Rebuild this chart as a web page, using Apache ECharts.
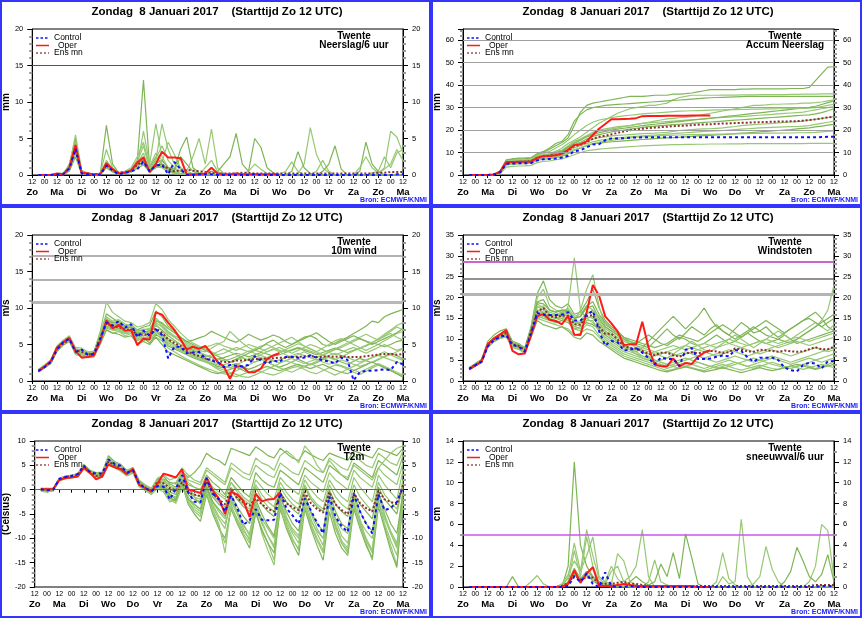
<!DOCTYPE html>
<html>
<head>
<meta charset="utf-8">
<title>ECMWF pluim Twente</title>
<script src="https://cdn.jsdelivr.net/npm/echarts@6/dist/echarts.min.js"></script>
<style>
  html, body { margin: 0; padding: 0; background: #fff; }
  #chart { width: 863px; height: 619px; }
</style>
</head>
<body>
<div id="chart"></div>
<script>
// time axis: every 6h from Zo 12 UTC (index 0) to Ma 12 UTC (index 60)
const dayNames = ['Zo', 'Ma', 'Di', 'Wo', 'Do', 'Vr', 'Za', 'Zo', 'Ma', 'Di', 'Wo', 'Do', 'Vr', 'Za', 'Zo', 'Ma'];
const hourLabels = ['12', '00'];
const titleText = 'Zondag  8 Januari 2017    (Starttijd Zo 12 UTC)';
const station = 'Twente';
const legendNames = ['Control', 'Oper', 'Ens mn'];

// values start at +6h; oper runs to +240h

// ---- Neerslag/6 uur (mm) ----
const rainControl = [
  0,0,0,0.1,0.1,0.9,3.6,0.2,0.1,0,
  0,1.3,0.6,0.1,0.3,0.5,0.8,1.8,0.5,1.3,
  1.4,0.1,1.8,0.8,0,0,0.1,0.1,0.1,0,
  0,0,0,0,0,0.1,0,0,0,0,
  0,0,0,0,0,0,0,0,0,0,
  0,0,0,0,0,0,0,0,0.1,0.1];
const rainOper = [
  0,0,0,0.2,0.1,1.0,4.1,0.3,0.2,0.1,
  0.1,1.6,0.8,0.2,0.3,0.6,1.7,2.4,0.4,1.5,
  3.2,2.4,2.4,2.3,0.1,0.1,0.1,0.2,1.0,0.2,
  0.1,0.1,0.2,0.1,0.1,0.1,0.1,0.1,0.1,0.1];
const rainMean = [
  0,0,0,0.1,0.1,0.9,3.3,0.3,0.2,0.1,
  0.2,1.3,0.7,0.3,0.4,0.6,1.4,1.9,0.6,1.3,
  1.4,0.9,0.5,0.6,0.7,0.6,0.5,0.4,0.3,0.2,
  0.2,0.2,0.2,0.3,0.3,0.2,0.2,0.2,0.2,0.2,
  0.2,0.2,0.2,0.2,0.2,0.2,0.2,0.2,0.2,0.2,
  0.2,0.2,0.2,0.2,0.2,0.3,0.3,0.4,0.4,0.4];
const rainMembers = [
  [0,0,0,0.2,0.1,1.5,5.0,0.5,0.2,0.1, 0.1,6.8,1.5,0.3,0.5,0.8,2.0,13.0,1.0,2.5, 1.5,0.5,0.3,0.2,0.1,0,0,0,0.5,0.2, 0,0,0,0,0,0,0,0,0,0, 0,0,0,0,0,0,0,0,0,0, 0,0,0,0,0,0,0,0,0,0],
  [0,0,0,0.1,0.2,0.8,3.5,0.2,0.1,0, 0,1.8,0.6,0.2,0.4,0.5,1.2,6.0,1.5,7.0, 2.5,1.0,0.8,0.5,0.2,0.1,0,0,0,0, 0,0,0,0,0,0,0,0,0,0, 0,0,0.2,1.5,6.5,2.8,1.0,0.3,0,0, 0,0,0,0,0,0.2,1.0,6.0,5.2,3.0],
  [0,0,0,0.2,0.1,1.0,4.5,0.4,0.2,0.1, 0.2,3.5,1.0,0.4,0.3,0.8,1.6,3.0,0.5,2.0, 7.0,3.5,1.5,0.8,0.5,2.5,5.0,1.5,6.3,1.0, 0.2,0,0,0,0,0,0,0,0,0, 0,0,0,0,0,0,0,0,0,0, 0,0,0,0,0,0,0,0,0,0],
  [0,0,0,0.1,0,0.5,2.5,0.1,0,0, 0,1.0,0.4,0.1,0.2,0.4,0.9,1.4,0.4,1.0, 1.2,0.6,0.4,0.2,0.1,0,0,0,0,0.5, 1.5,2.5,5.7,1.5,0.5,5.0,3.8,1.0,0.3,0, 0,0,0,0,0,0,0,0,0,0, 0,0,0.5,4.5,1.5,0.5,0,0,0,0],
  [0,0,0,0.2,0.3,1.2,5.5,0.6,0.3,0.1, 0.1,2.0,0.8,0.3,0.5,1.0,2.5,4.5,1.2,3.0, 2.0,1.0,0.5,0.2,0.1,0,0,0,0,0, 0,0,0,0,0,0,0,0,0,0, 0,0,0,0,0,0.5,2.0,0.5,0,0, 0,0,0,0,0.3,0.5,2.5,1.0,3.0,3.5],
  [0,0,0,0,0,0.6,3.0,0.2,0.1,0, 0,1.2,0.5,0.1,0.2,0.4,1.0,2.0,0.3,1.2, 1.8,4.5,2.8,1.0,0.5,0.2,0.1,0,0,0, 0,0,0,0,0.5,1.5,0.8,0.2,0,0, 0.5,1.8,0.5,0,0,0,0,0,0,0, 0,0,0,0,0,0,0,0,0,0],
  [0,0,0,0.1,0.1,0.9,4.0,0.3,0.1,0, 0.1,1.5,0.7,0.2,0.3,0.6,1.5,2.5,0.6,1.6, 2.0,1.0,0.8,3.5,5.2,1.0,0.3,0.1,0,0, 0,0,0,0,0,0,0,0,0,0, 0,0.5,3.2,1.0,0.2,0,0,0,0,0, 0,0,0,0,0,0,0,0,0,0],
  [0,0,0,0.1,0.1,0.8,3.2,0.2,0.1,0, 0,1.1,0.5,0.2,0.3,0.5,1.2,1.8,0.4,1.1, 1.0,0.4,0.2,0.1,0,0,0,0,0,0, 0,0,0,0,0,0,0,0,0,0, 0,0,0,0,0,0,0,0,0,0, 0,0,0,0,0,0,0,0,0,0],
  [0,0,0,0.2,0.1,1.1,4.5,0.3,0.1,0, 0.1,1.7,0.8,0.2,0.3,0.7,1.8,4.0,0.7,2.2, 4.0,2.0,1.0,0.5,0.2,0.1,0,1.0,2.0,0.5, 0,0,0,0,0,0,0,0,0,0, 0,0,0,0,0,0,0,0,0,0, 0,0,1.0,2.5,1.0,0.3,0.8,1.5,3.5,2.0],
  [0,0,0,0.1,0.2,1.0,3.8,0.3,0.1,0, 0,1.4,0.6,0.2,0.3,0.6,1.4,2.2,0.5,1.4, 1.5,0.8,0.6,2.5,1.5,0.5,0.2,0,0,0, 0,0,0,0,0,0,0,0,0,0, 0,0,0,0,0,0,0.5,1.5,4.0,0.8, 0,0,0,0,0,0,0,0,0,0]
];
const rainLevels = [15];

// ---- Accum Neerslag (mm) ----
const accControl = [
  0,0,0,0,0.2,1.2,5.0,5.1,5.2,5.2,
  5.3,6.5,7.0,7.1,7.3,7.8,8.6,10.6,11.0,12.3,
  13.6,13.7,15.5,16.3,16.3,16.4,16.6,16.7,16.8,16.8,
  16.8,16.8,16.8,16.8,16.8,16.8,16.8,16.8,16.8,16.8,
  16.8,16.8,16.8,16.8,16.8,16.8,16.8,16.8,16.8,16.8,
  16.8,16.8,16.8,16.8,16.8,16.8,16.8,16.9,17.0,17.0];
const accOper = [
  0,0,0,0,0.2,1.5,5.8,5.8,5.9,5.9,
  6.0,7.6,8.4,8.5,8.8,9.5,11.2,13.3,13.7,15.0,
  17.8,20.6,22.7,24.8,24.8,24.9,25.0,25.3,26.2,26.3,
  26.3,26.3,26.4,26.4,26.4,26.4,26.5,26.5,26.5,26.5];
const accMean = [
  0,0,0,0,0.2,1.3,5.3,5.6,5.8,5.9,
  6.1,7.6,8.3,8.6,8.9,9.5,10.9,12.8,13.4,14.7,
  16.1,17.0,17.5,18.1,18.8,19.4,19.9,20.3,20.6,20.9,
  21.1,21.3,21.5,21.7,21.9,22.0,22.2,22.4,22.5,22.6,
  22.8,22.9,23.0,23.1,23.2,23.3,23.4,23.5,23.6,23.7,
  23.8,23.8,23.9,24.0,24.2,24.5,24.8,25.2,25.6,26.0];
const accMembers = [
  [0,0,0,0,0.3,1.5,6.5,7.0,7.2,7.3, 7.5,9.0,10.0,11.5,13.0,14.5,16.5,22.0,28.0,31.0, 32.0,32.5,33.0,33.5,34.0,34.5,35.0,35.0,35.0,35.2, 35.5,35.5,35.5,36.0,36.0,36.2,36.5,37.0,37.5,38.0, 38.0,38.0,38.0,38.0,38.2,38.2,38.3,38.3,38.3,38.3, 38.3,38.3,38.5,38.5,38.5,39.0,42.0,45.0,48.0,48.2],
  [0,0,0,0,0.2,1.0,5.0,5.5,5.8,6.0, 6.5,8.0,8.5,9.0,10.5,12.0,14.0,15.5,17.0,19.0, 21.0,23.0,24.5,26.0,27.5,28.5,29.5,30.0,30.5,31.0, 31.0,31.5,32.0,33.5,34.5,35.0,35.5,35.5,35.5,35.5, 35.5,35.6,35.6,35.6,35.7,35.7,35.7,35.8,35.8,35.8, 35.8,35.8,35.9,35.9,36.0,36.0,36.0,36.1,36.1,36.2],
  [0,0,0,0,0.2,1.2,5.5,6.0,6.2,6.3, 6.5,8.5,9.0,9.5,10.5,11.0,13.0,15.0,16.0,17.5, 19.0,20.0,20.5,21.0,21.5,21.8,22.0,22.5,23.0,23.5, 24.0,24.5,25.0,25.2,25.5,25.8,26.0,26.5,27.0,27.5, 28.0,28.5,29.0,29.5,30.0,30.5,31.0,31.0,31.2,31.5, 31.5,31.6,31.7,31.8,32.0,32.0,32.2,32.5,33.0,33.5],
  [0,0,0,0,0.1,0.8,4.5,4.8,5.0,5.1, 5.3,6.5,7.0,7.3,7.8,8.2,9.5,11.0,12.0,13.0, 13.8,14.2,14.5,14.8,15.0,15.2,15.4,15.6,15.8,16.0, 16.2,16.4,16.5,16.6,16.8,17.0,17.2,17.4,17.5,17.6, 17.8,18.0,18.2,18.4,18.6,18.8,19.0,19.2,19.4,19.6, 19.8,20.0,20.2,20.5,20.8,21.0,21.4,21.8,22.2,22.5],
  [0,0,0,0,0.3,1.6,6.0,6.3,6.5,6.6, 6.8,8.2,8.8,9.2,10.0,11.0,12.5,14.5,16.0,17.5, 18.5,19.5,20.0,20.5,21.0,21.5,22.0,22.5,23.0,23.2, 23.4,23.6,23.8,24.0,24.2,24.4,24.6,24.8,25.0,25.2, 25.4,25.6,25.8,26.0,26.0,26.2,26.4,26.6,26.8,27.0, 27.2,27.4,27.6,27.8,28.0,28.5,29.0,29.5,30.0,30.5],
  [0,0,0,0,0.1,0.5,3.5,3.8,4.0,4.1, 4.3,5.5,6.0,6.3,6.8,7.2,8.0,9.0,10.0,10.8, 11.2,11.5,11.8,12.0,12.2,12.4,12.6,12.8,13.0,13.1, 13.2,13.3,13.4,13.5,13.5,13.6,13.6,13.7,13.7,13.8, 13.8,13.8,13.9,13.9,13.9,14.0,14.0,14.0,14.0,14.0, 14.0,14.0,14.0,14.0,14.0,14.1,14.1,14.1,14.1,14.1],
  [0,0,0,0,0.2,1.3,5.8,6.1,6.3,6.4, 6.6,8.0,8.6,9.0,9.8,10.8,12.5,14.0,15.5,17.0, 18.0,18.8,19.4,20.0,20.4,20.8,21.2,21.6,22.0,22.3, 22.6,22.9,23.2,23.5,23.8,24.1,24.4,24.7,25.0,25.3, 25.6,25.9,26.2,26.5,26.8,27.1,27.4,27.7,28.0,28.3, 28.6,28.9,29.2,29.5,29.8,30.1,30.6,31.4,32.2,33.0],
  [0,0,0,0,0.2,1.1,5.2,5.5,5.7,5.8, 6.0,7.5,8.0,8.4,9.0,9.8,11.5,13.0,14.0,15.0, 16.0,16.6,17.0,17.4,17.6,17.8,18.0,18.2,18.4,18.5, 18.6,18.8,19.0,19.4,19.8,20.0,20.2,20.4,20.5,20.6, 20.8,21.0,21.3,21.6,22.0,22.2,22.4,22.6,22.8,23.0, 23.2,23.4,23.6,23.8,24.0,24.4,24.8,25.2,25.6,26.0],
  [0,0,0,0,0.2,1.0,4.8,5.1,5.3,5.4, 5.6,7.0,7.4,7.7,8.3,9.0,10.5,12.0,13.2,14.0, 14.8,15.4,15.8,16.2,16.5,16.8,17.0,17.2,17.4,17.6, 17.8,18.0,18.2,18.4,18.6,18.8,19.0,19.2,19.4,19.5, 19.6,19.8,20.0,20.2,20.4,20.6,20.8,21.0,21.1,21.2, 21.3,21.4,21.5,21.6,21.8,22.0,22.5,23.0,23.5,24.0],
  [0,0,0,0,0.3,1.8,6.8,7.2,7.5,7.6, 7.8,9.5,10.5,12.0,14.0,15.0,18.0,24.0,27.0,29.0, 30.0,30.5,31.0,31.2,31.4,31.6,31.8,32.0,32.2,32.4, 32.6,32.8,33.0,33.2,33.4,33.6,33.8,34.0,34.2,34.4, 34.5,34.6,34.7,34.8,34.9,35.0,35.0,35.0,35.0,35.0, 35.0,35.0,35.0,35.0,35.0,35.0,35.0,35.0,35.0,35.0],
  [0,0,0,0,0.2,1.4,6.2,6.5,6.7,6.8, 7.0,8.8,9.5,10.5,12.0,13.5,15.5,18.0,20.0,22.0, 23.5,24.5,25.0,25.5,26.0,26.3,26.6,26.9,27.2,27.4, 27.6,27.8,28.0,28.2,28.4,28.5,28.6,28.7,28.8,28.9, 29.0,29.0,29.1,29.1,29.2,29.2,29.3,29.3,29.4,29.4, 29.5,29.5,29.6,29.6,29.7,29.8,30.0,30.5,31.0,31.5],
  [0,0,0,0,0.1,0.9,4.6,4.9,5.1,5.2, 5.4,6.8,7.2,7.5,8.0,8.6,9.8,11.2,12.2,13.2, 14.0,14.6,15.0,15.4,15.8,16.2,16.5,16.8,17.0,17.2, 17.4,17.5,17.6,17.7,17.8,17.9,18.0,18.0,18.1,18.1, 18.2,18.2,18.3,18.3,18.4,18.4,18.5,18.5,18.6,18.6, 18.6,18.7,18.7,18.8,18.8,18.9,19.0,19.2,19.4,19.6],
  [0,0,0,0,0.2,1.2,5.6,5.9,6.1,6.2, 6.4,7.8,8.4,8.8,9.6,10.4,12.0,13.6,14.6,16.0, 17.2,18.0,18.6,19.2,19.6,20.0,20.4,20.8,21.2,21.5, 21.8,22.0,22.2,22.4,22.6,22.8,23.0,23.2,23.4,23.6, 23.8,24.0,24.2,24.4,24.6,24.8,25.0,25.2,25.4,25.6, 25.8,26.0,26.2,26.4,26.6,26.8,27.2,27.8,28.6,29.5]
];
const accLevels = [10, 20, 30, 40, 50, 60];

// ---- 10m wind (m/s) ----
const windControl = [
  1.4,1.9,2.6,4.3,5.3,5.8,4.0,4.3,3.6,3.7,
  5.8,8.0,7.6,8.2,7.3,7.8,6.0,6.9,6.2,7.1,
  6.3,3.1,4.7,4.7,3.8,3.9,4.0,3.1,2.8,2.6,
  1.9,2.2,2.1,2.0,2.2,3.4,2.8,2.4,2.8,2.6,
  3.3,3.3,3.2,3.2,3.5,3.2,2.8,2.7,2.4,3.2,
  2.9,0.1,1.2,1.4,1.4,1.5,1.6,1.5,2.6,2.3];
const windOper = [
  1.3,2.0,2.7,4.6,5.3,5.9,4.1,3.2,3.3,3.5,
  5.4,8.3,7.2,7.7,6.9,7.0,4.9,5.8,5.7,9.4,
  9.1,8.0,7.0,5.7,4.3,4.7,4.4,4.8,3.8,2.6,
  2.0,0.3,2.0,2.0,1.2,1.2,1.7,3.0,3.5,3.8];
const windMean = [
  1.4,2.0,2.6,4.4,5.1,5.7,4.2,4.0,3.6,3.8,
  5.9,7.9,7.4,7.4,7.0,7.1,6.3,6.4,6.3,7.2,
  6.6,5.7,5.2,4.8,4.1,3.7,3.4,3.1,2.9,2.7,
  2.6,2.6,2.8,2.8,2.9,3.0,3.0,3.1,3.1,3.2,
  3.2,3.3,3.3,3.4,3.4,3.3,3.3,3.4,3.3,3.4,
  3.3,3.3,3.3,3.4,3.5,3.6,3.7,3.7,3.6,3.7];
const windMembers = [
  [1.5,2.1,2.8,4.6,5.5,6.1,4.4,4.2,3.9,4.0, 6.4,9.2,8.6,8.0,7.5,7.7,7.0,7.4,7.6,9.6, 8.8,7.5,6.8,6.0,5.4,5.6,5.9,6.2,6.8,6.4, 6.0,5.6,5.3,5.8,6.4,6.0,5.6,5.9,6.3,6.0, 5.4,5.0,5.5,6.0,6.2,5.8,5.0,4.8,5.2,5.6, 6.0,6.5,7.0,7.5,8.2,8.0,8.8,9.2,9.5,9.8],
  [1.2,1.8,2.4,4.0,5.0,5.5,3.6,3.4,3.2,3.3, 5.0,7.0,6.5,6.8,6.2,6.5,5.0,5.5,5.8,6.0, 5.5,4.5,4.0,3.5,3.0,2.6,2.2,1.8,1.5,1.2, 1.0,0.8,0.6,0.9,1.2,1.5,1.3,1.0,0.8,1.1, 1.5,1.8,2.0,1.6,1.2,1.0,1.4,1.8,2.2,2.0, 1.6,1.2,0.9,1.3,1.8,2.2,1.9,1.5,1.0,0.6],
  [1.6,2.2,2.9,4.8,5.6,6.2,4.6,4.5,4.0,4.1, 6.8,10.8,9.4,8.8,8.2,8.0,7.4,7.6,8.0,10.6, 9.8,8.4,7.5,6.6,5.8,5.2,4.8,4.4,4.0,3.6, 3.8,4.2,4.6,4.3,4.0,4.4,4.8,5.0,4.6,4.2, 4.0,4.3,4.6,4.4,4.1,3.8,3.5,3.9,4.3,4.6, 5.0,5.4,5.8,5.5,5.2,5.8,6.4,7.0,7.6,8.0],
  [1.3,1.9,2.5,4.2,5.1,5.6,3.9,3.8,3.5,3.6, 5.6,7.5,7.0,7.2,6.8,7.0,5.5,6.0,5.2,6.4, 5.8,4.8,4.4,4.0,3.6,3.2,2.9,2.6,2.4,2.0, 1.8,2.1,2.4,2.0,1.6,1.9,2.3,2.6,2.2,1.9, 2.2,2.6,3.0,2.6,2.2,2.5,2.9,3.3,3.0,2.6, 2.3,2.7,3.1,2.8,2.5,2.9,3.4,3.8,3.5,3.0],
  [1.4,2.0,2.7,4.5,5.2,5.8,4.3,4.1,3.7,3.9, 6.2,8.5,8.0,7.8,7.2,7.4,6.6,6.8,6.6,8.0, 7.4,6.5,6.0,5.5,5.0,4.6,4.2,4.0,4.5,5.0, 5.4,6.8,6.0,5.2,4.6,4.2,4.0,4.4,4.8,5.2, 5.6,6.0,5.4,4.8,4.4,4.0,4.5,5.0,5.5,5.8, 5.4,5.0,4.6,4.2,4.6,5.0,5.5,6.0,6.5,6.8],
  [1.3,1.9,2.6,4.3,5.0,5.6,4.1,3.9,3.5,3.7, 5.7,7.6,7.2,7.0,6.6,6.8,5.8,6.0,5.9,6.8, 6.0,5.0,4.6,4.2,3.8,3.4,3.0,2.6,2.2,1.8, 1.5,1.2,0.9,0.6,0.5,0.8,1.2,1.6,2.0,2.4, 2.8,2.5,2.2,1.9,2.3,2.7,3.1,2.8,2.4,2.1, 1.8,1.5,1.2,1.6,2.0,2.4,2.0,1.6,1.2,0.8],
  [1.5,2.0,2.6,4.4,5.2,5.9,4.2,4.0,3.7,3.8, 6.0,8.2,7.8,7.6,7.4,7.3,6.4,6.6,6.5,7.6, 7.0,6.2,5.6,5.0,4.6,4.2,3.8,3.5,3.2,3.0, 3.2,3.5,3.8,3.6,3.3,3.6,3.9,3.7,3.4,3.6, 3.9,4.2,4.5,4.2,3.9,3.6,3.9,4.2,4.5,4.2, 3.9,4.2,4.5,4.8,5.2,5.0,4.7,5.0,5.4,5.6],
  [1.4,1.9,2.5,4.2,5.0,5.6,4.0,3.8,3.5,3.6, 5.4,7.2,7.0,6.8,6.5,6.6,5.6,5.8,5.6,6.6, 6.2,5.4,5.0,4.5,4.0,3.6,3.3,3.0,2.7,2.4, 2.2,2.5,2.8,3.2,2.9,2.6,2.9,3.2,2.8,2.5, 2.8,3.1,2.7,2.4,2.7,3.0,2.6,2.3,2.6,2.9, 2.6,2.3,2.0,2.3,2.6,3.0,3.3,3.6,4.0,4.4],
  [1.5,2.1,2.7,4.5,5.3,5.9,4.3,4.1,3.8,3.9, 6.3,8.8,8.2,8.4,7.8,7.6,6.8,7.0,7.2,8.6, 7.8,6.8,6.2,5.8,5.2,4.8,4.4,4.6,4.9,5.2, 4.8,4.5,4.2,4.6,5.0,4.7,4.4,4.0,4.3,4.6, 4.2,3.8,4.2,4.6,5.0,4.7,4.3,3.9,3.6,3.9, 4.3,4.6,4.2,3.8,4.2,4.6,5.0,4.6,4.2,4.5],
  [1.3,1.8,2.4,4.1,4.9,5.4,3.8,3.6,3.3,3.5, 5.2,7.0,6.6,6.4,6.0,6.2,5.2,5.4,5.0,6.0, 5.0,4.0,3.6,3.2,2.8,2.4,2.0,1.6,1.2,1.0, 1.3,1.6,1.9,1.5,1.1,1.4,1.7,2.0,1.7,1.4, 1.7,2.0,2.3,2.0,1.7,2.0,2.3,1.9,1.5,1.2, 1.0,1.4,1.8,2.2,2.6,2.2,1.8,1.4,1.0,0.5],
  [1.4,2.0,2.7,4.4,5.2,5.8,4.1,4.0,3.6,3.8, 6.6,8.6,7.6,7.2,6.8,7.2,6.2,6.5,6.8,7.8, 6.8,5.8,5.4,5.0,4.4,4.0,3.6,3.3,3.6,4.0, 4.4,4.0,3.6,3.2,2.8,3.2,3.6,4.0,4.4,4.0, 3.6,3.2,3.6,4.0,3.6,3.2,3.6,4.0,4.4,4.8, 5.2,5.6,6.0,6.4,6.0,5.6,6.2,6.8,7.4,7.0],
  [1.3,1.9,2.6,4.3,5.2,5.7,4.0,3.9,3.6,3.7, 5.6,7.8,7.6,7.8,7.2,7.0,6.0,6.2,6.4,7.0, 6.4,5.6,5.0,4.6,4.2,3.8,3.4,2.8,2.2,1.6, 1.2,1.0,1.4,1.8,2.2,2.6,3.0,2.6,2.2,1.8, 1.5,1.2,1.6,2.0,2.4,2.0,1.6,1.2,0.8,1.2, 1.6,2.0,2.4,2.8,3.2,3.6,4.0,3.6,3.2,2.8],
  [1.5,2.0,2.7,4.5,5.4,6.0,4.3,4.2,3.7,3.8, 6.0,8.4,8.0,8.2,7.6,7.5,6.5,6.7,6.9,8.2, 8.0,7.2,6.6,6.0,5.4,5.0,4.6,4.2,3.8,3.4, 3.0,2.6,3.0,3.4,3.8,4.2,4.6,5.2,5.6,5.0, 4.6,5.0,5.4,5.8,6.2,6.6,6.0,5.4,5.0,5.4, 5.8,6.2,5.8,5.4,5.0,5.4,5.8,6.2,6.6,7.2],
  [1.4,1.9,2.5,4.2,5.0,5.6,4.1,3.9,3.5,3.7, 5.5,7.4,7.2,7.4,6.9,6.9,6.0,6.3,6.0,6.9, 6.2,5.2,4.8,4.3,3.9,3.5,3.1,2.8,2.5,2.2, 2.0,1.8,2.2,2.6,3.0,3.4,3.2,3.0,2.7,2.9, 3.2,3.5,3.8,3.5,3.2,2.9,3.2,3.5,3.8,3.5, 3.2,2.9,2.6,2.9,3.2,3.5,3.2,2.9,2.6,2.3],
  [1.5,2.1,2.8,4.6,5.4,6.0,4.3,4.1,3.8,3.9, 6.1,8.1,7.7,7.9,7.4,7.6,6.8,7.1,7.0,8.4, 7.6,6.6,6.0,5.4,4.8,4.4,4.0,3.6,3.3,3.0, 2.8,3.0,3.3,3.7,4.1,3.8,3.5,3.2,3.5,3.9, 4.3,4.7,5.1,4.8,4.4,4.0,3.6,3.2,2.9,3.3, 3.7,4.1,4.5,4.9,5.3,5.7,6.1,6.5,6.0,5.6]
];
const windLevels = [10.8, 13.9, 17.2];

// ---- Windstoten (m/s) ----
const gustControl = [
  2.9,3.8,4.6,8.3,9.8,10.6,11.0,8.6,8.3,7.0,
  11.5,16.3,15.9,15.8,15.8,15.9,16.5,14.5,14.5,15.8,
  16.8,12.0,8.5,9.6,9.3,7.3,7.5,7.9,6.8,5.5,
  4.0,5.6,5.3,5.3,3.6,7.5,7.9,5.3,5.3,5.4,
  5.8,6.1,5.9,7.4,7.2,5.7,4.6,5.6,5.6,5.6,
  5.0,3.2,2.6,2.3,3.8,4.4,4.2,3.0,4.7,4.8];
const gustOper = [
  2.8,3.7,4.7,8.8,10.2,11.2,12.2,7.2,6.4,6.6,
  11.0,15.5,16.1,14.7,14.4,13.6,15.6,11.1,11.0,16.5,
  23.0,20.5,15.5,13.8,11.9,8.6,8.8,8.8,14.2,8.1,
  3.9,3.6,3.5,5.4,3.5,4.3,4.1,5.8,6.8,7.4];
const gustMean = [
  3.0,3.9,4.8,8.6,10.0,10.9,11.5,8.8,8.4,7.4,
  11.7,16.6,17.5,15.5,15.3,15.7,15.6,13.6,13.5,15.6,
  15.8,13.0,11.3,11.3,10.0,8.4,7.9,7.8,7.2,6.5,
  6.2,6.8,6.8,6.2,5.8,6.6,6.9,6.7,6.9,7.2,
  7.1,6.7,6.9,7.8,7.6,7.1,7.0,7.5,7.4,7.2,
  7.0,7.3,7.1,7.0,7.1,7.6,8.1,7.6,7.6,8.2];
const gustMembers = [
  [3.2,4.2,5.2,9.5,11.0,12.0,12.5,9.5,9.0,8.0, 13.0,21.0,24.0,19.5,18.0,17.5,18.5,16.0,16.5,19.0, 22.0,17.5,14.5,13.0,12.0,10.5,9.5,9.0,8.5,8.0, 9.5,11.0,12.5,11.0,10.0,11.5,13.0,12.0,11.0,12.5, 13.5,12.0,11.0,12.5,14.0,13.0,11.5,12.0,13.0,11.5, 10.5,11.5,12.5,13.5,14.5,15.5,16.5,15.0,13.0,12.0],
  [2.8,3.6,4.4,8.0,9.5,10.2,10.5,8.0,7.6,6.6, 10.5,15.0,15.5,14.5,14.0,14.5,18.0,29.5,17.0,15.0, 14.0,12.0,10.0,9.0,8.0,7.0,6.5,6.0,5.5,5.0, 4.5,5.0,5.5,6.0,6.5,7.0,6.5,6.0,5.5,6.0, 6.5,7.0,7.5,7.0,6.5,6.0,6.5,7.0,7.5,8.0, 8.5,9.0,9.5,10.0,11.0,12.0,13.0,14.5,17.0,23.0],
  [3.0,3.8,4.6,8.4,9.8,10.6,11.2,8.6,8.0,7.2, 12.0,18.0,17.0,16.0,15.5,16.0,15.5,14.5,17.0,22.0, 25.5,18.0,13.0,12.0,11.0,10.0,9.0,8.0,7.0,6.0, 5.0,4.5,4.0,3.5,3.0,3.5,4.0,4.5,4.0,3.5, 3.0,3.5,4.0,4.5,4.0,3.5,3.0,3.5,4.0,4.5, 4.0,3.5,3.0,3.5,4.0,3.5,3.0,3.5,4.0,4.5],
  [2.9,3.9,4.9,8.8,10.2,11.0,11.8,9.0,8.6,7.6, 11.5,16.0,16.5,15.0,14.0,14.5,14.0,12.5,13.0,14.0, 13.5,12.5,11.0,10.0,9.0,8.0,7.5,7.0,8.0,9.5, 11.0,12.5,14.0,15.5,14.0,12.5,14.0,15.5,17.5,15.0, 13.0,12.0,11.0,10.0,11.0,12.0,13.0,12.0,11.0,10.5, 10.0,9.5,9.0,10.0,11.0,12.0,13.0,14.0,15.0,16.0],
  [3.1,4.0,5.0,8.6,10.0,10.8,11.5,9.0,8.5,7.5, 12.0,17.5,18.0,16.0,15.0,15.5,15.0,13.5,14.0,15.5, 15.0,13.5,12.0,11.0,10.0,9.0,8.0,7.0,6.0,5.5, 5.0,4.5,4.0,4.5,5.0,5.5,5.0,4.5,4.0,3.5, 3.2,3.0,3.5,4.0,4.5,5.0,5.5,5.0,4.5,4.0, 3.6,3.2,3.0,3.5,4.0,4.5,5.0,5.5,6.0,6.5],
  [2.7,3.6,4.5,8.0,9.4,10.2,10.8,8.2,7.8,6.8, 10.8,15.0,14.5,14.0,13.5,13.0,12.5,11.0,11.5,12.5, 12.0,10.5,9.0,8.0,7.0,6.0,5.5,5.0,4.5,4.0, 3.5,3.0,2.5,2.8,3.2,3.6,3.2,2.8,2.5,3.0, 3.5,4.0,3.5,3.0,2.6,3.0,3.4,3.8,3.4,3.0, 2.8,3.2,3.6,3.2,2.8,3.2,3.6,4.0,3.6,3.2],
  [3.0,3.9,4.8,8.6,10.0,10.8,11.5,8.8,8.4,7.5, 12.5,19.0,19.5,17.0,16.5,17.0,17.0,15.0,15.5,17.5, 18.0,15.0,13.0,12.0,11.0,10.0,9.5,9.0,10.0,11.0, 10.0,9.0,8.5,9.5,10.5,10.0,9.0,8.5,9.0,10.0, 11.0,10.0,9.0,9.5,10.5,11.5,10.5,9.5,9.0,9.5, 10.0,11.0,10.0,9.0,9.5,10.0,10.5,11.0,11.5,12.0],
  [2.9,3.8,4.7,8.4,9.8,10.6,11.2,8.5,8.1,7.1, 11.0,15.5,15.0,14.5,15.0,15.5,15.0,13.0,12.5,14.5, 14.5,12.0,10.5,9.5,8.5,7.5,7.0,6.5,6.0,5.5, 6.0,6.5,7.0,6.5,6.0,6.5,7.0,7.5,7.0,6.5, 6.0,6.5,7.0,7.5,8.0,7.5,7.0,6.5,7.0,7.5, 7.0,6.5,6.0,6.5,7.0,7.5,8.0,7.5,7.0,7.5],
  [3.1,4.0,4.9,8.8,10.2,11.0,11.6,9.2,8.8,7.8, 12.2,18.5,17.5,16.5,16.0,16.5,16.0,14.0,14.5,16.5, 16.5,14.0,12.0,10.5,9.5,8.5,8.0,7.5,7.0,6.5, 7.0,7.5,8.0,8.5,8.0,7.5,8.0,8.5,9.0,8.5, 8.0,8.5,9.0,8.5,8.0,8.5,9.0,9.5,9.0,8.5, 8.0,8.5,9.0,9.5,9.0,8.5,9.0,9.5,10.0,10.5],
  [2.8,3.7,4.6,8.2,9.6,10.4,11.0,8.4,8.0,7.0, 10.5,14.5,13.5,13.0,12.5,13.0,12.0,10.5,10.0,11.5, 11.0,9.5,8.5,7.5,6.5,5.5,5.0,4.5,4.0,3.5, 3.0,2.5,2.2,2.6,3.0,3.4,3.0,2.6,2.2,2.5, 2.8,3.2,2.8,2.4,2.0,2.4,2.8,3.2,2.8,2.5, 2.8,3.2,3.6,4.0,3.6,3.2,2.8,3.2,3.6,4.0],
  [3.0,3.9,4.8,8.7,10.1,11.0,11.6,8.9,8.5,7.6, 12.8,20.0,22.0,18.0,17.0,16.5,17.5,15.5,16.0,18.0, 17.0,15.5,13.5,12.5,11.5,10.5,9.5,8.5,7.5,7.0, 6.5,6.0,5.5,6.5,7.5,8.5,9.5,8.5,7.5,7.0, 8.0,9.0,10.0,11.0,10.0,9.0,8.0,9.0,10.0,11.0, 12.0,11.0,10.0,11.0,12.0,13.0,14.0,13.0,12.0,13.5],
  [2.9,3.8,4.7,8.5,9.9,10.7,11.3,8.7,8.2,7.3, 11.8,17.0,16.5,15.5,15.0,15.0,14.5,13.0,13.5,15.0, 15.5,13.0,11.5,10.5,9.5,8.5,7.5,6.5,5.5,5.0, 4.5,4.0,3.5,4.0,4.5,5.0,5.5,6.0,5.5,5.0, 4.5,5.0,5.5,6.0,5.5,5.0,4.5,5.0,5.5,6.0, 5.5,5.0,4.5,5.0,5.5,6.0,6.5,7.0,7.5,8.0],
  [3.1,4.0,4.9,8.9,10.3,11.2,11.9,9.1,8.7,7.7, 12.6,18.8,18.5,17.0,16.5,17.0,16.5,15.0,15.5,18.0, 19.0,16.0,14.0,12.5,11.5,10.5,10.0,9.5,9.0,8.5, 8.0,8.5,9.0,10.0,11.0,10.5,10.0,9.5,10.5,11.5, 12.5,13.5,12.5,11.5,10.5,11.5,12.5,13.5,14.5,13.5, 12.5,11.5,12.5,13.5,14.5,15.0,14.0,13.0,14.0,15.0],
  [2.8,3.7,4.6,8.3,9.7,10.5,11.1,8.4,8.0,7.1, 11.2,16.0,15.5,15.0,14.5,15.0,14.5,12.5,12.0,13.5, 13.0,11.0,9.5,8.5,7.5,6.5,6.0,5.5,5.0,4.5, 4.0,3.5,3.0,3.5,4.0,4.5,4.0,3.5,3.0,3.5, 4.0,4.5,5.0,4.5,4.0,3.5,4.0,4.5,5.0,5.5, 5.0,4.5,4.0,4.5,5.0,5.5,5.0,4.5,5.0,5.5],
  [3.0,3.9,4.8,8.6,10.0,10.9,11.4,8.8,8.4,7.4, 11.6,16.8,17.2,16.0,15.8,16.2,16.0,14.0,14.0,16.0, 17.0,14.5,12.5,11.5,10.5,9.5,9.0,8.5,8.0,7.5, 7.0,6.5,7.0,7.5,8.0,8.5,8.0,7.5,8.0,8.5, 9.0,9.5,10.0,9.5,9.0,8.5,9.0,9.5,10.0,9.5, 9.0,9.5,10.0,10.5,10.0,9.5,10.0,10.5,11.0,11.5]
];
const gustLevels = [20.8, 24.5, 28.5];

// ---- T2m (Celsius) ----
const tempControl = [
  0.1,-0.1,0.0,2.2,2.6,2.8,3.2,4.9,3.6,3.3,
  3.3,6.2,5.3,4.9,3.5,4.0,1.2,0.3,-0.3,0.7,
  0.6,-2.0,0.2,3.0,-0.5,-2.5,-2.6,2.3,-0.8,-2.0,
  -4.5,-1.2,-3.8,-7.2,-6.3,-4.0,-6.2,-6.3,-6.2,-0.7,
  -3.8,-5.3,-7.0,-1.8,-4.3,-6.8,-9.0,-1.4,-5.5,-7.5,
  -8.7,-1.0,-4.5,-7.0,-9.0,-1.0,-4.2,-3.8,-2.5,0.5];
const tempOper = [
  0.1,0.1,0.1,2.0,2.4,2.5,2.7,4.5,3.5,2.1,
  2.7,5.2,4.6,4.2,3.2,4.3,1.0,0.3,-0.4,1.2,
  3.3,2.9,2.5,4.2,0.0,-0.3,-0.7,2.5,-0.2,-1.8,
  -5.0,-0.5,-1.0,-2.3,-5.6,-0.8,-2.4,-2.0,-1.9,-0.5];
const tempMean = [
  0.1,0.1,0.1,2.1,2.6,2.8,3.0,4.7,3.7,2.8,
  3.0,5.8,5.0,4.4,3.3,4.0,1.4,0.4,-0.3,1.6,
  1.3,0.3,-0.2,1.5,-0.6,-1.0,-1.3,1.8,-0.8,-2.0,
  -3.0,0.3,-1.8,-2.6,-3.3,-1.8,-3.0,-4.0,-4.5,-0.8,
  -2.8,-3.6,-4.2,-0.5,-2.8,-4.0,-4.7,-0.5,-3.0,-4.2,
  -5.0,-0.7,-2.8,-3.8,-4.5,-0.2,-2.0,-2.5,-3.0,0.9];
const tempMembers = [
  [0.3,0.2,0.2,2.4,2.8,3.0,3.3,5.2,4.0,3.5, 3.6,7.0,5.8,5.2,4.0,4.5,1.8,0.8,0.2,2.0, 2.2,1.5,1.2,3.8,2.5,3.5,5.0,7.5,6.5,6.0, 5.0,8.5,8.0,7.5,7.0,8.8,8.0,7.0,6.5,8.5, 7.5,6.5,6.0,8.0,7.2,6.5,6.0,7.5,7.0,6.5, 6.0,8.0,7.5,7.0,6.5,8.5,8.0,7.5,7.0,8.5],
  [-0.2,-0.4,-0.3,1.8,2.2,2.4,2.6,4.2,3.2,2.6, 2.5,5.0,4.5,3.8,2.8,3.4,0.6,-0.2,-0.9,0.2, -0.5,-2.5,-2.0,1.0,-2.5,-4.0,-5.0,0.5,-4.0,-7.0, -13.0,-3.0,-6.5,-9.0,-11.0,-5.0,-8.0,-11.0,-14.5,-2.0, -7.0,-10.0,-12.5,-2.5,-7.5,-10.5,-13.0,-3.0,-8.0,-11.0, -13.0,-2.5,-7.0,-11.0,-14.5,-2.0,-7.5,-11.5,-15.5,-1.5],
  [0.0,-0.2,0.1,2.3,2.7,2.9,3.1,5.0,3.8,3.0, 3.2,6.5,5.4,4.8,3.6,4.2,1.5,0.5,-0.5,1.5, 1.0,-1.0,-1.5,2.5,0.5,-1.5,-3.0,1.0,-2.5,-4.5, -6.0,-1.5,-4.5,-7.0,-9.5,-2.5,-6.5,-9.5,-12.0,-1.0, -5.5,-8.5,-10.0,-2.0,-6.0,-9.0,-11.5,-1.5,-6.0,-9.5, -11.0,-3.0,-7.0,-10.0,-12.5,-1.0,-5.5,-8.5,-11.0,0.5],
  [0.2,0.1,0.3,2.2,2.6,2.8,3.0,4.8,3.9,3.2, 3.4,6.0,5.2,4.6,3.4,4.4,1.8,0.8,0.0,2.2, 2.8,1.2,0.5,3.5,1.0,0.5,0.0,3.0,1.5,0.5, -1.0,2.5,1.0,-0.5,-1.5,3.5,2.0,1.0,0.5,4.0, 3.0,2.0,1.0,4.5,3.5,2.5,1.5,5.0,4.0,3.0, 2.0,5.5,4.5,3.5,2.5,6.0,5.0,4.0,3.0,7.0],
  [-0.3,-0.5,-0.2,1.9,2.3,2.5,2.8,4.4,3.3,2.7, 2.8,5.5,4.8,4.0,3.0,3.8,1.0,0.0,-1.0,0.5, 0.0,-1.5,-2.5,0.5,-1.5,-3.0,-4.0,0.5,-3.5,-6.0, -8.0,-2.0,-5.0,-8.0,-10.5,-4.0,-9.0,-12.5,-15.5,-3.0, -6.5,-9.0,-11.0,-1.0,-5.0,-8.0,-10.0,-2.0,-7.0,-10.5, -12.0,-1.5,-6.0,-10.5,-13.0,-0.5,-5.0,-9.0,-12.0,-0.5],
  [0.1,0.3,0.2,2.3,2.7,3.0,3.2,5.0,3.9,3.4, 3.5,6.8,5.6,5.0,3.8,4.6,2.0,1.0,0.3,2.4, 3.0,2.0,2.5,4.5,3.0,2.0,1.5,4.5,3.5,2.5, 1.5,5.5,4.5,3.5,3.0,6.5,5.5,5.0,4.0,7.0, 8.0,7.0,5.5,9.0,7.5,5.0,3.5,6.0,4.5,3.0, 2.5,5.0,4.0,3.0,2.0,4.5,6.0,7.5,8.5,9.0],
  [0.0,0.0,0.0,2.1,2.5,2.7,2.9,4.6,3.6,2.9, 3.0,5.8,5.0,4.4,3.3,4.0,1.2,0.3,-0.4,1.0, 0.8,-0.5,-1.0,2.0,-1.0,-2.0,-2.5,1.5,-1.5,-3.0, -4.0,0.0,-2.0,-3.5,-4.5,-1.0,-3.0,-4.5,-5.5,-0.5, -2.5,-4.0,-5.0,0.5,-2.0,-3.5,-4.5,0.0,-3.0,-4.5, -5.5,-0.5,-3.0,-4.5,-6.0,0.5,-2.0,-3.5,-5.0,1.5],
  [0.2,0.0,0.1,2.0,2.4,2.6,2.9,4.6,3.5,2.8, 2.9,5.6,4.9,4.3,3.2,3.9,1.0,0.2,-0.6,0.8, 0.4,-1.2,-1.8,1.5,-2.0,-3.5,-4.5,0.0,-3.0,-5.5, -7.0,-2.5,-5.0,-7.5,-9.0,-3.0,-6.0,-8.0,-10.0,-2.5, -6.0,-8.0,-9.5,-3.5,-6.5,-8.5,-10.0,-3.0,-6.0,-8.0, -9.0,-3.5,-6.5,-8.5,-10.0,-2.5,-6.0,-9.0,-11.5,-3.0],
  [0.1,0.1,0.0,2.2,2.6,2.8,3.0,4.8,3.7,3.0, 3.1,6.0,5.2,4.5,3.4,4.1,1.3,0.4,-0.2,1.4, 1.5,0.5,0.0,2.8,0.0,-1.0,-1.5,2.5,0.0,-1.0, -2.0,1.5,-0.5,-2.0,-3.0,1.0,-1.0,-2.5,-3.5,1.5, -0.5,-2.0,-3.0,2.0,0.0,-1.5,-2.5,2.0,0.0,-1.5, -2.5,2.5,0.5,-1.0,-2.5,3.0,1.0,-0.5,-2.0,4.0],
  [-0.1,-0.3,-0.1,2.0,2.5,2.7,2.8,4.5,3.4,2.7, 2.8,5.4,4.7,4.1,3.1,3.7,0.9,0.1,-0.7,0.6, 0.2,-1.8,-2.2,1.2,-3.0,-5.0,-6.5,-1.0,-5.0,-8.0, -10.0,-4.0,-7.0,-9.5,-12.0,-4.5,-8.5,-11.0,-13.0,-4.0, -8.0,-11.0,-13.5,-4.0,-8.0,-11.5,-14.5,-4.5,-9.0,-12.0, -13.5,-4.0,-8.0,-11.5,-14.0,-3.5,-8.0,-12.5,-16.0,-2.0],
  [0.0,0.1,0.0,2.1,2.6,2.8,3.0,4.7,3.6,2.9, 3.0,6.0,5.1,4.5,3.4,4.1,1.2,0.4,-0.3,1.2, 1.0,0.0,-0.5,2.2,-0.5,-1.5,-2.0,2.0,-1.0,-2.5, -3.5,0.5,-1.5,-3.0,-4.0,0.5,-2.0,-3.5,-4.5,0.5, -1.5,-3.0,-4.0,1.0,-1.5,-3.0,-4.0,1.0,-1.5,-3.0, -4.0,1.0,-1.5,-3.0,-4.5,1.5,-1.0,-2.5,-4.0,2.0],
  [0.1,-0.1,0.1,2.2,2.7,2.9,3.1,4.9,3.8,3.1, 3.2,6.3,5.3,4.7,3.5,4.2,1.4,0.5,-0.1,1.5, 1.8,1.0,1.5,3.5,2.0,1.5,1.0,4.0,3.0,2.0, 1.0,4.5,3.5,2.5,2.0,5.0,4.0,3.0,2.5,5.5, 4.5,3.5,3.0,6.0,5.0,4.0,3.5,6.5,5.5,4.5, 4.0,7.0,6.0,5.0,4.5,7.5,6.5,5.5,5.0,8.0],
  [-0.1,-0.2,0.0,2.0,2.4,2.6,2.8,4.5,3.5,2.8, 2.9,5.6,4.9,4.2,3.2,3.9,1.0,0.2,-0.6,0.8, 0.5,-1.0,-2.0,1.0,-2.0,-3.0,-4.0,0.5,-2.5,-4.0, -5.5,-1.0,-3.5,-5.5,-7.0,-2.0,-5.0,-7.5,-9.5,-1.5, -4.5,-7.0,-8.5,-1.0,-4.5,-7.0,-8.5,-0.5,-4.5,-7.0, -8.0,-1.0,-4.5,-7.0,-8.5,-0.5,-4.0,-7.0,-9.0,-1.0],
  [0.2,0.1,0.2,2.3,2.7,2.9,3.1,4.9,3.8,3.1, 3.3,6.4,5.4,4.8,3.6,4.3,1.6,0.6,0.0,1.8, 2.0,0.8,0.2,3.2,1.5,0.5,0.0,2.5,0.5,-0.5, -1.5,1.5,0.0,-1.5,-2.5,2.0,0.5,-1.0,-2.0,2.5, 1.0,0.0,-1.0,3.0,1.5,0.5,-0.5,3.5,2.0,1.0, 0.0,4.0,2.5,1.5,0.5,4.5,3.0,2.0,1.0,5.5],
  [-0.2,-0.3,-0.2,1.9,2.4,2.6,2.7,4.4,3.4,2.6, 2.7,5.3,4.6,4.0,3.0,3.6,0.8,0.0,-0.8,0.4, 0.0,-2.0,-2.8,0.8,-2.5,-4.5,-5.5,-0.5,-4.5,-7.5, -11.0,-3.5,-6.0,-8.5,-10.0,-3.5,-7.0,-9.5,-11.5,-3.5, -7.5,-10.5,-12.0,-3.5,-7.0,-10.0,-12.5,-2.5,-7.5,-11.0, -12.5,-3.0,-7.5,-10.5,-12.5,-2.5,-7.0,-10.5,-13.5,-2.5]
];
const tempLevels = [0];

// ---- sneeuwval/6 uur (cm) ----
const snowControl = [
  0,0,0,0,0,0,0,0,0,0,
  0,0,0,0,0,0,0.1,1.0,0.5,1.3,
  0.3,0,1.4,0.1,0,0,0.1,0,0,0,
  0,0,0,0,0,0,0,0,0,0,
  0,0,0,0,0,0,0,0,0,0,
  0,0,0,0,0,0,0,0.1,0.1,0.1];
const snowOper = [
  0,0,0,0,0,0,0,0,0,0,
  0,0,0,0,0,0,0.3,1.6,0.4,1.3,
  1.9,0.1,0.1,0.1,0.2,0.3,0.2,0.1,0.1,0.1,
  0.1,0.1,0.1,0.1,0.1,0.1,0.1,0,0,0];
const snowMean = [
  0,0,0,0,0,0,0,0,0,0,
  0,0,0,0,0,0.1,0.4,1.1,0.7,0.9,
  0.9,0.3,0.3,0.3,0.4,0.5,0.3,0.3,0.2,0.1,
  0.1,0.1,0.1,0.1,0.1,0.1,0.1,0.1,0.1,0.1,
  0.1,0.1,0.1,0.1,0.1,0.1,0.1,0.1,0.1,0.1,
  0.1,0.1,0.1,0.1,0.1,0.1,0.2,0.2,0.2,0.2];
const snowMembers = [
  [0,0,0,0,0,0,0,1.0,0,0, 0,0,0,0,0,0,2.0,12.0,4.0,2.0, 1.0,0.5,0.2,0,0,0,0,0,0,0, 0,0,0,0,0,0,0,0,0,0, 0,0,0,0,0,0,0,0,0,0, 0,0,0,0,0,0,0,0,0,0],
  [0,0,0,0,0,0,0,0,0,0, 0.5,1.1,0.3,0,0,0,1.0,4.2,1.5,5.5, 3.0,0.8,0.3,1.5,2.0,0.5,1.0,2.0,5.5,1.0, 0,0,0,0,0,0,0,0,0,0, 0,0,0,0,0,0,0,0,0,0, 0,0,0,0,0,0,0,0,0,0],
  [0,0,0,0,0,0,0,0,0,0, 0,0,0,0,0,0.3,1.2,2.5,1.5,3.0, 4.8,1.0,0.5,0.3,3.2,2.5,0.5,0.2,0,0.5, 2.6,0.5,0.2,0,0,0,0,0,0,0, 0,0,0,0,0,0,0,0,0,0, 0,0,0,0,0,0,0,0,0,0],
  [0,0,0,0,0,0,0,0,0,0, 0,0,0,0,0,0,0.5,1.8,0.8,1.5, 1.0,0.5,0.3,0.2,0.1,0.2,0.5,1.0,0.5,0.2, 0.5,2.2,1.0,3.3,0.8,5.1,2.8,0.3,0,0, 0,0,0,0,0,0,0,0,0,0, 0,0,0,0,0,0,0,0,0,0],
  [0,0,0,0,0,0,0,0,0,0, 0,0,0,0,0,0,0.2,1.2,0.6,1.0, 0.8,0.3,0.1,0,0,0,0,0,0,0, 0,0,0,0,0,0,0,0,0,0, 0,1.0,0.3,0.5,6.5,1.0,0,0,0,0, 0,0,0,0,0,0.5,2.0,6.0,5.4,0.8],
  [0,0,0,0,0,0,0,0,0,0, 0,0,0,0,0,0.2,0.8,1.5,0.8,1.2, 1.0,0.4,0.5,2.0,0.8,0.2,0,0,0,0, 0,0,0,0,0,0,0,0,0,0, 0.5,3.3,0.8,0.2,0,0,0.3,1.0,3.9,1.7, 0.5,0,0,0,0,0,0,0,0,0],
  [0,0,0,0,0,0,0,0,0,0, 0,0,0,0,0,0,0.3,1.4,0.6,1.2, 0.6,0.2,0.1,0,0,0,0,0,0,0, 0,0,0,0,0,0,0,0,0,0, 0,0,0,0,0,0,0,0,0,0, 0,0.5,1.5,3.8,2.5,1.0,0.5,1.2,3.1,0.5],
  [0,0,0,0,0,0,0,0,0,0, 0,0,0,0,0,0,0.4,3.5,1.0,4.8, 2.0,0.5,0.2,0.1,0,0,0,0,0,0, 0,0,0,0,0,0,0,0,0,0, 0,0,0,0,0,0,0,0,0,0, 0,0,0,0,0,0,0,0,0,0]
];
const snowLevels = [5];

const panels = [
  { col: 0, row: 0, label: 'Neerslag/6 uur', unit: 'mm', min: 0, max: 20, step: 5, minor: 5,
    members: rainMembers, control: rainControl, oper: rainOper, mean: rainMean,
    levels: rainLevels, levelStyle: [{ color: '#555', width: 1.2 }] },
  { col: 1, row: 0, label: 'Accum Neerslag', unit: 'mm', min: 0, max: 65, step: 10, minor: 5,
    members: accMembers, control: accControl, oper: accOper, mean: accMean,
    levels: accLevels, levelStyle: [{ color: '#a0a0a0', width: 1 }] },
  { col: 0, row: 1, label: '10m wind', unit: 'm/s', min: 0, max: 20, step: 5, minor: 5,
    members: windMembers, control: windControl, oper: windOper, mean: windMean,
    levels: windLevels, levelStyle: [{ color: '#b8b8b8', width: 3 }, { color: '#9a9a9a', width: 1.5 }, { color: '#9a9a9a', width: 1.5 }] },
  { col: 1, row: 1, label: 'Windstoten', unit: 'm/s', min: 0, max: 35, step: 5, minor: 5,
    members: gustMembers, control: gustControl, oper: gustOper, mean: gustMean,
    levels: gustLevels, levelStyle: [{ color: '#b4b4b4', width: 3 }, { color: '#6e6e6e', width: 1.5 }, { color: '#cc66cc', width: 2 }] },
  { col: 0, row: 2, label: 'T2m', unit: '(Celsius)', min: -20, max: 10, step: 5, minor: 5,
    members: tempMembers, control: tempControl, oper: tempOper, mean: tempMean,
    levels: tempLevels, levelStyle: [{ color: '#666', width: 1.2 }] },
  { col: 1, row: 2, label: 'sneeuwval/6 uur', unit: 'cm', min: 0, max: 14, step: 2, minor: 2,
    members: snowMembers, control: snowControl, oper: snowOper, mean: snowMean,
    levels: snowLevels, levelStyle: [{ color: '#cc55ee', width: 1.5 }] }
];

const FONT = '"Liberation Sans", Arial, Helvetica, sans-serif';

// category per 6h step; 12 UTC steps carry the day name
const cats = [];
for (let i = 0; i <= 60; i++) {
  if (i % 4 === 0) cats.push(hourLabels[0] + '|' + dayNames[i / 4]);
  else if (i % 4 === 2) cats.push(hourLabels[1]);
  else cats.push('');
}

const fmtX = (v) => {
  if (v.indexOf('|') >= 0) {
    const parts = v.split('|');
    return '{t|' + parts[0] + '}\n{d|' + parts[1] + '}';
  }
  return '{t|' + v + '}';
};

const grids = [], xAxes = [], yAxes = [], series = [], graphics = [];

const txt = (x, y, text, font, fill, align) => ({
  type: 'text', x: x, y: y, silent: true, z: 100,
  style: { text: text, font: font, fill: fill || '#000', align: align || 'left', verticalAlign: 'middle',
           textAlign: align || 'left', textVerticalAlign: 'middle' }
});

panels.forEach((p, k) => {
  const x0 = p.col ? 431 : 0;
  const y0 = p.row * 206;

  grids.push({ left: x0 + 32, top: y0 + 29, width: 371, height: 146,
    show: true, borderColor: '#000', borderWidth: 1, backgroundColor: 'transparent' });

  xAxes.push({
    gridIndex: k, type: 'category', data: cats, boundaryGap: false,
    axisLine: { lineStyle: { color: '#000', width: 1 } },
    axisTick: { interval: 1, length: 3, lineStyle: { color: '#000' } },
    axisLabel: { interval: 1, margin: 3, formatter: fmtX, color: '#000',
      rich: {
        t: { fontSize: 7, lineHeight: 8, fontFamily: FONT, color: '#000' },
        d: { fontSize: 9.5, lineHeight: 12, fontWeight: 'bold', fontFamily: FONT, color: '#000' }
      } },
    splitLine: { show: false }
  });

  const yBase = {
    gridIndex: k, type: 'value', min: p.min, max: p.max, interval: p.step,
    axisLine: { show: true, lineStyle: { color: '#000' } },
    axisTick: { show: true, length: 5, lineStyle: { color: '#000' } },
    minorTick: { show: true, splitNumber: p.minor, length: 3, lineStyle: { color: '#999', width: 2 } },
    axisLabel: { fontSize: 7.5, fontFamily: FONT, color: '#000', margin: 9, showMaxLabel: p.max % p.step === 0 },
    splitLine: { show: false }
  };
  yAxes.push(Object.assign({}, yBase, {
    position: 'left', name: p.unit, nameLocation: 'middle', nameGap: 20, nameRotate: 90,
    nameTextStyle: { fontSize: 10, fontWeight: 'bold', fontFamily: FONT, color: '#000' }
  }));
  yAxes.push(Object.assign({}, yBase, { position: 'right' }));

  const yi = 2 * k;
  p.members.forEach((m, j) => {
    const s = {
      type: 'line', name: 'member', xAxisIndex: k, yAxisIndex: yi, data: [null].concat(m),
      symbol: 'none', silent: true, z: 2,
      lineStyle: { color: j % 3 === 0 ? '#7fb556' : '#97c874', width: 1.2 }
    };
    if (j === 0) {
      s.markLine = {
        silent: true, symbol: ['none', 'none'], label: { show: false }, animation: false,
        data: p.levels.map((v, i) => {
          const st = p.levelStyle[Math.min(i, p.levelStyle.length - 1)];
          return { yAxis: v, lineStyle: { color: st.color, width: st.width, type: 'solid' } };
        })
      };
    }
    series.push(s);
  });
  series.push({ type: 'line', name: legendNames[2], xAxisIndex: k, yAxisIndex: yi,
    data: [null].concat(p.mean), symbol: 'none', silent: true, z: 3,
    lineStyle: { color: '#8b2e2e', width: 2, type: [2, 2] } });
  series.push({ type: 'line', name: legendNames[1], xAxisIndex: k, yAxisIndex: yi,
    data: [null].concat(p.oper), symbol: 'none', silent: true, z: 4,
    lineStyle: { color: '#ff1a1a', width: 2 } });
  series.push({ type: 'line', name: legendNames[0], xAxisIndex: k, yAxisIndex: yi,
    data: [null].concat(p.control), symbol: 'none', silent: true, z: 5,
    lineStyle: { color: '#1010ff', width: 2, type: [3, 3] } });

  // panel frame, title, legend, station label, source
  graphics.push({ type: 'rect', silent: true, z: 100,
    shape: { x: x0 + 1, y: y0 + 1, width: 429, height: 204 },
    style: { fill: 'none', stroke: '#3434ff', lineWidth: 2 } });
  graphics.push(txt(x0 + 217, y0 + 12, titleText, 'bold 11.5px ' + FONT, '#000', 'center'));

  graphics.push({ type: 'line', silent: true, z: 100, shape: { x1: x0 + 36, y1: y0 + 38, x2: x0 + 49, y2: y0 + 38 },
    style: { stroke: '#1010ff', lineWidth: 1.5, lineDash: [2.5, 2] } });
  graphics.push({ type: 'line', silent: true, z: 100, shape: { x1: x0 + 36, y1: y0 + 45.5, x2: x0 + 49, y2: y0 + 45.5 },
    style: { stroke: '#ff1a1a', lineWidth: 1.5 } });
  graphics.push({ type: 'line', silent: true, z: 100, shape: { x1: x0 + 36, y1: y0 + 53, x2: x0 + 49, y2: y0 + 53 },
    style: { stroke: '#a05050', lineWidth: 1.5, lineDash: [2, 2] } });
  graphics.push(txt(x0 + 54, y0 + 38, legendNames[0], '8.5px ' + FONT));
  graphics.push(txt(x0 + 58, y0 + 45.5, legendNames[1], '8.5px ' + FONT));
  graphics.push(txt(x0 + 54, y0 + 53, legendNames[2], '8.5px ' + FONT));

  graphics.push(txt(x0 + 354, y0 + 36, station, 'bold 10px ' + FONT, '#000', 'center'));
  graphics.push(txt(x0 + 354, y0 + 45.5, p.label, 'bold 10px ' + FONT, '#000', 'center'));
  graphics.push(txt(x0 + 427, y0 + 200, 'Bron: ECMWF/KNMI', 'bold 7px ' + FONT, '#1a1aff', 'right'));
});

const chart = echarts.init(document.getElementById('chart'));
chart.setOption({
  animation: false,
  backgroundColor: '#fff',
  grid: grids,
  xAxis: xAxes,
  yAxis: yAxes,
  series: series,
  graphic: { elements: graphics }
});
window.addEventListener('resize', () => chart.resize());
</script>
</body>
</html>
